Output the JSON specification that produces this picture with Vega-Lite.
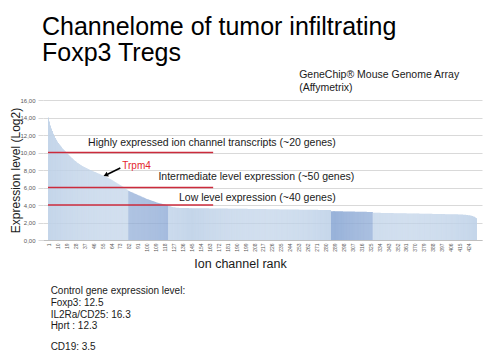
{
"$schema": "https://vega.github.io/schema/vega-lite/v6.json",
"width": 439, "height": 140,
"autosize": {"type": "none"},
"padding": {"left": 43, "top": 100, "right": 9, "bottom": 121},
"background": "white",
"title": {"text": ["Channelome of tumor infiltrating", "Foxp3 Tregs"], "anchor": "start", "frame": "group", "font": "Liberation Sans", "fontSize": 25, "fontWeight": "normal", "color": "#000000", "lineHeight": 26, "offset": 4, "dx": -1},
"config": {"view": {"stroke": null}, "font": "Liberation Sans"},
"layer": [
{
"data": {"values": [
{"r":1,"v":14},{"r":2,"v":13.55},{"r":3,"v":13.1},{"r":4,"v":12.75},{"r":5,"v":12.45},{"r":6,"v":12.15},{"r":7,"v":11.9},{"r":8,"v":11.65},{"r":9,"v":11.45},{"r":10,"v":11.25},
{"r":11,"v":11.1},{"r":12,"v":10.95},{"r":13,"v":10.8},{"r":14,"v":10.65},{"r":15,"v":10.5},{"r":16,"v":10.38},{"r":17,"v":10.25},{"r":18,"v":10.13},{"r":19,"v":10.02},{"r":20,"v":9.9},
{"r":21,"v":9.78},{"r":22,"v":9.66},{"r":23,"v":9.55},{"r":24,"v":9.44},{"r":25,"v":9.33},{"r":26,"v":9.22},{"r":27,"v":9.12},{"r":28,"v":9.02},{"r":29,"v":8.93},{"r":30,"v":8.84},
{"r":31,"v":8.76},{"r":32,"v":8.68},{"r":33,"v":8.6},{"r":34,"v":8.53},{"r":35,"v":8.46},{"r":36,"v":8.4},{"r":37,"v":8.34},{"r":38,"v":8.28},{"r":39,"v":8.22},{"r":40,"v":8.16},
{"r":41,"v":8.11},{"r":42,"v":8.06},{"r":43,"v":8.01},{"r":44,"v":7.96},{"r":45,"v":7.91},{"r":46,"v":7.86},{"r":47,"v":7.81},{"r":48,"v":7.76},{"r":49,"v":7.71},{"r":50,"v":7.66},
{"r":51,"v":7.61},{"r":52,"v":7.56},{"r":53,"v":7.51},{"r":54,"v":7.46},{"r":55,"v":7.41},{"r":56,"v":7.36},{"r":57,"v":7.31},{"r":58,"v":7.26},{"r":59,"v":7.21},{"r":60,"v":7.16},
{"r":61,"v":7.1},{"r":62,"v":7.04},{"r":63,"v":6.98},{"r":64,"v":6.92},{"r":65,"v":6.85},{"r":66,"v":6.78},{"r":67,"v":6.71},{"r":68,"v":6.64},{"r":69,"v":6.57},{"r":70,"v":6.5},
{"r":71,"v":6.43},{"r":72,"v":6.36},{"r":73,"v":6.29},{"r":74,"v":6.22},{"r":75,"v":6.15},{"r":76,"v":6.08},{"r":77,"v":6.0},{"r":78,"v":5.92},{"r":79,"v":5.84},{"r":80,"v":5.76},
{"r":81,"v":5.68},{"r":82,"v":5.6},{"r":83,"v":5.55},{"r":84,"v":5.5},{"r":85,"v":5.45},{"r":86,"v":5.4},{"r":87,"v":5.35},{"r":88,"v":5.3},{"r":89,"v":5.25},{"r":90,"v":5.2},
{"r":91,"v":5.15},{"r":92,"v":5.1},{"r":93,"v":5.05},{"r":94,"v":5.0},{"r":95,"v":4.95},{"r":96,"v":4.9},{"r":97,"v":4.85},{"r":98,"v":4.8},{"r":99,"v":4.75},{"r":100,"v":4.7},
{"r":101,"v":4.66},{"r":102,"v":4.62},{"r":103,"v":4.58},{"r":104,"v":4.54},{"r":105,"v":4.5},{"r":106,"v":4.46},{"r":107,"v":4.42},{"r":108,"v":4.38},{"r":109,"v":4.34},{"r":110,"v":4.3},
{"r":111,"v":4.27},{"r":112,"v":4.24},{"r":113,"v":4.21},{"r":114,"v":4.18},{"r":115,"v":4.15},{"r":116,"v":4.12},{"r":117,"v":4.09},{"r":118,"v":4.06},{"r":119,"v":4.03},{"r":120,"v":4.0},
{"r":121,"v":3.97},{"r":122,"v":3.93},{"r":123,"v":3.89},{"r":124,"v":3.85},{"r":125,"v":3.81},{"r":126,"v":3.78},{"r":127,"v":3.75},{"r":128,"v":3.73},{"r":129,"v":3.71},{"r":130,"v":3.7},
{"r":131,"v":3.69},{"r":132,"v":3.68},{"r":133,"v":3.67},{"r":134,"v":3.66},{"r":135,"v":3.65},{"r":136,"v":3.65},{"r":137,"v":3.65},{"r":138,"v":3.65},{"r":139,"v":3.65},{"r":140,"v":3.65},
{"r":141,"v":3.65},{"r":142,"v":3.65},{"r":143,"v":3.64},{"r":144,"v":3.64},{"r":145,"v":3.64},{"r":146,"v":3.64},{"r":147,"v":3.64},{"r":148,"v":3.64},{"r":149,"v":3.64},{"r":150,"v":3.63},
{"r":151,"v":3.63},{"r":152,"v":3.63},{"r":153,"v":3.63},{"r":154,"v":3.63},{"r":155,"v":3.63},{"r":156,"v":3.62},{"r":157,"v":3.62},{"r":158,"v":3.62},{"r":159,"v":3.62},{"r":160,"v":3.62},
{"r":161,"v":3.62},{"r":162,"v":3.62},{"r":163,"v":3.61},{"r":164,"v":3.61},{"r":165,"v":3.61},{"r":166,"v":3.61},{"r":167,"v":3.61},{"r":168,"v":3.61},{"r":169,"v":3.6},{"r":170,"v":3.6},
{"r":171,"v":3.6},{"r":172,"v":3.6},{"r":173,"v":3.6},{"r":174,"v":3.6},{"r":175,"v":3.6},{"r":176,"v":3.59},{"r":177,"v":3.59},{"r":178,"v":3.59},{"r":179,"v":3.59},{"r":180,"v":3.59},
{"r":181,"v":3.59},{"r":182,"v":3.58},{"r":183,"v":3.58},{"r":184,"v":3.58},{"r":185,"v":3.58},{"r":186,"v":3.58},{"r":187,"v":3.58},{"r":188,"v":3.58},{"r":189,"v":3.57},{"r":190,"v":3.57},
{"r":191,"v":3.57},{"r":192,"v":3.57},{"r":193,"v":3.57},{"r":194,"v":3.57},{"r":195,"v":3.56},{"r":196,"v":3.56},{"r":197,"v":3.56},{"r":198,"v":3.56},{"r":199,"v":3.56},{"r":200,"v":3.56},
{"r":201,"v":3.56},{"r":202,"v":3.55},{"r":203,"v":3.55},{"r":204,"v":3.55},{"r":205,"v":3.55},{"r":206,"v":3.55},{"r":207,"v":3.55},{"r":208,"v":3.54},{"r":209,"v":3.54},{"r":210,"v":3.54},
{"r":211,"v":3.54},{"r":212,"v":3.54},{"r":213,"v":3.54},{"r":214,"v":3.54},{"r":215,"v":3.53},{"r":216,"v":3.53},{"r":217,"v":3.53},{"r":218,"v":3.53},{"r":219,"v":3.53},{"r":220,"v":3.53},
{"r":221,"v":3.52},{"r":222,"v":3.52},{"r":223,"v":3.52},{"r":224,"v":3.52},{"r":225,"v":3.52},{"r":226,"v":3.52},{"r":227,"v":3.52},{"r":228,"v":3.51},{"r":229,"v":3.51},{"r":230,"v":3.51},
{"r":231,"v":3.51},{"r":232,"v":3.51},{"r":233,"v":3.51},{"r":234,"v":3.5},{"r":235,"v":3.5},{"r":236,"v":3.5},{"r":237,"v":3.5},{"r":238,"v":3.5},{"r":239,"v":3.5},{"r":240,"v":3.5},
{"r":241,"v":3.49},{"r":242,"v":3.49},{"r":243,"v":3.49},{"r":244,"v":3.49},{"r":245,"v":3.49},{"r":246,"v":3.49},{"r":247,"v":3.48},{"r":248,"v":3.48},{"r":249,"v":3.48},{"r":250,"v":3.48},
{"r":251,"v":3.48},{"r":252,"v":3.48},{"r":253,"v":3.48},{"r":254,"v":3.47},{"r":255,"v":3.47},{"r":256,"v":3.47},{"r":257,"v":3.47},{"r":258,"v":3.47},{"r":259,"v":3.47},{"r":260,"v":3.46},
{"r":261,"v":3.46},{"r":262,"v":3.46},{"r":263,"v":3.46},{"r":264,"v":3.46},{"r":265,"v":3.46},{"r":266,"v":3.46},{"r":267,"v":3.45},{"r":268,"v":3.45},{"r":269,"v":3.45},{"r":270,"v":3.45},
{"r":271,"v":3.45},{"r":272,"v":3.45},{"r":273,"v":3.44},{"r":274,"v":3.44},{"r":275,"v":3.44},{"r":276,"v":3.44},{"r":277,"v":3.44},{"r":278,"v":3.44},{"r":279,"v":3.44},{"r":280,"v":3.43},
{"r":281,"v":3.43},{"r":282,"v":3.43},{"r":283,"v":3.43},{"r":284,"v":3.43},{"r":285,"v":3.43},{"r":286,"v":3.3},{"r":287,"v":3.3},{"r":288,"v":3.3},{"r":289,"v":3.3},{"r":290,"v":3.29},
{"r":291,"v":3.29},{"r":292,"v":3.29},{"r":293,"v":3.29},{"r":294,"v":3.28},{"r":295,"v":3.28},{"r":296,"v":3.28},{"r":297,"v":3.28},{"r":298,"v":3.27},{"r":299,"v":3.27},{"r":300,"v":3.27},
{"r":301,"v":3.27},{"r":302,"v":3.26},{"r":303,"v":3.26},{"r":304,"v":3.26},{"r":305,"v":3.26},{"r":306,"v":3.25},{"r":307,"v":3.25},{"r":308,"v":3.25},{"r":309,"v":3.25},{"r":310,"v":3.24},
{"r":311,"v":3.24},{"r":312,"v":3.24},{"r":313,"v":3.24},{"r":314,"v":3.23},{"r":315,"v":3.23},{"r":316,"v":3.23},{"r":317,"v":3.23},{"r":318,"v":3.22},{"r":319,"v":3.22},{"r":320,"v":3.22},
{"r":321,"v":3.22},{"r":322,"v":3.21},{"r":323,"v":3.21},{"r":324,"v":3.21},{"r":325,"v":3.21},{"r":326,"v":3.2},{"r":327,"v":3.2},{"r":328,"v":3.12},{"r":329,"v":3.12},{"r":330,"v":3.12},
{"r":331,"v":3.12},{"r":332,"v":3.11},{"r":333,"v":3.11},{"r":334,"v":3.11},{"r":335,"v":3.11},{"r":336,"v":3.1},{"r":337,"v":3.1},{"r":338,"v":3.1},{"r":339,"v":3.1},{"r":340,"v":3.1},
{"r":341,"v":3.09},{"r":342,"v":3.09},{"r":343,"v":3.09},{"r":344,"v":3.09},{"r":345,"v":3.08},{"r":346,"v":3.08},{"r":347,"v":3.08},{"r":348,"v":3.08},{"r":349,"v":3.07},{"r":350,"v":3.07},
{"r":351,"v":3.07},{"r":352,"v":3.07},{"r":353,"v":3.07},{"r":354,"v":3.06},{"r":355,"v":3.06},{"r":356,"v":3.06},{"r":357,"v":3.06},{"r":358,"v":3.05},{"r":359,"v":3.05},{"r":360,"v":3.05},
{"r":361,"v":3.05},{"r":362,"v":3.04},{"r":363,"v":3.04},{"r":364,"v":3.04},{"r":365,"v":3.04},{"r":366,"v":3.04},{"r":367,"v":3.03},{"r":368,"v":3.03},{"r":369,"v":3.03},{"r":370,"v":3.03},
{"r":371,"v":3.02},{"r":372,"v":3.02},{"r":373,"v":3.02},{"r":374,"v":3.02},{"r":375,"v":3.01},{"r":376,"v":3.01},{"r":377,"v":3.01},{"r":378,"v":3.01},{"r":379,"v":3.01},{"r":380,"v":3.0},
{"r":381,"v":3.0},{"r":382,"v":3.0},{"r":383,"v":3.0},{"r":384,"v":2.99},{"r":385,"v":2.99},{"r":386,"v":2.99},{"r":387,"v":2.99},{"r":388,"v":2.98},{"r":389,"v":2.98},{"r":390,"v":2.98},
{"r":391,"v":2.98},{"r":392,"v":2.98},{"r":393,"v":2.97},{"r":394,"v":2.97},{"r":395,"v":2.97},{"r":396,"v":2.97},{"r":397,"v":2.96},{"r":398,"v":2.96},{"r":399,"v":2.96},{"r":400,"v":2.96},
{"r":401,"v":2.95},{"r":402,"v":2.95},{"r":403,"v":2.95},{"r":404,"v":2.95},{"r":405,"v":2.95},{"r":406,"v":2.94},{"r":407,"v":2.94},{"r":408,"v":2.94},{"r":409,"v":2.94},{"r":410,"v":2.93},
{"r":411,"v":2.93},{"r":412,"v":2.93},{"r":413,"v":2.93},{"r":414,"v":2.92},{"r":415,"v":2.92},{"r":416,"v":2.92},{"r":417,"v":2.92},{"r":418,"v":2.91},{"r":419,"v":2.9},{"r":420,"v":2.89},
{"r":421,"v":2.88},{"r":422,"v":2.87},{"r":423,"v":2.86},{"r":424,"v":2.84},{"r":425,"v":2.82},{"r":426,"v":2.8},{"r":427,"v":2.77},{"r":428,"v":2.74},{"r":429,"v":2.7},{"r":430,"v":2.65},
{"r":431,"v":2.58},{"r":432,"v":2.5}
]},
"mark": {"type": "bar", "size": 1.02, "opacity": 0.9},
"encoding": {
"x": {"field": "r", "type": "quantitative", "scale": {"domain": [0.5, 432.5], "nice": false, "zero": false},
 "axis": {"values": [1,10,19,28,37,46,55,64,73,82,91,100,109,118,127,136,145,154,163,172,181,190,199,208,217,226,235,244,253,262,271,280,289,298,307,316,325,334,343,352,361,370,379,388,397,406,415,424],
  "tickCount": 500, "labelAngle": 270, "labelFontSize": 5, "labelColor": "#595959", "labelOverlap": false, "labelFlush": false, "labelPadding": 3, "ticks": false, "grid": false, "domainColor": "#bfbfbf",
  "title": "Ion channel rank", "titleFontSize": 12.5, "titleFontWeight": "normal", "titleColor": "#1a1a1a", "titleX": 197, "titleY": 23, "titleAlign": "center", "titleBaseline": "middle"}},
"y": {"field": "v", "type": "quantitative", "scale": {"domain": [0, 16], "nice": false},
 "axis": {"values": [0,2,4,6,8,10,12,14,16], "tickCount": 50, "labelOverlap": false, "labelExpr": "replace(format(datum.value, '.2f'), '.', ',')",
  "labelFontSize": 6, "labelColor": "#595959", "labelPadding": 3, "tickSize": 5, "tickColor": "#d9d9d9", "grid": true, "gridColor": "#d9d9d9", "domain": false,
  "title": "Expression level (Log2)", "titleFontSize": 12, "titleFontWeight": "normal", "titleColor": "#1a1a1a", "titleX": -28, "titleY": 70, "titleAlign": "center", "titleBaseline": "middle", "titleAngle": 270}},
"color": {"condition": {"test": "(datum.r >= 82 && datum.r <= 121) || (datum.r >= 286 && datum.r <= 327)", "value": "#8eabd6"}, "value": "#bfd1e8"}
}
},
{
"data": {"values": [{"level": 10}, {"level": 6}, {"level": 4}]},
"mark": {"type": "rule", "stroke": "#cc2b3c", "strokeWidth": 1.3},
"encoding": {"y": {"field": "level", "type": "quantitative"}, "x": {"datum": 0.5, "type": "quantitative"}, "x2": {"datum": 166.8}}
},
{
"data": {"values": [{"t": "Highly expressed ion channel transcripts (~20 genes)"}]},
"mark": {"type": "text", "align": "left", "baseline": "middle", "fontSize": 10.5, "color": "#1a1a1a"},
"encoding": {"text": {"field": "t"}, "x": {"datum": 40.85, "type": "quantitative"}, "y": {"datum": 11.05, "type": "quantitative"}}
},
{
"data": {"values": [{"t": "Intermediate level expression (~50 genes)"}]},
"mark": {"type": "text", "align": "left", "baseline": "middle", "fontSize": 10.5, "color": "#1a1a1a"},
"encoding": {"text": {"field": "t"}, "x": {"datum": 111.7, "type": "quantitative"}, "y": {"datum": 7.23, "type": "quantitative"}}
},
{
"data": {"values": [{"t": "Low level expression (~40 genes)"}]},
"mark": {"type": "text", "align": "left", "baseline": "middle", "fontSize": 10.5, "color": "#1a1a1a"},
"encoding": {"text": {"field": "t"}, "x": {"datum": 132.4, "type": "quantitative"}, "y": {"datum": 4.83, "type": "quantitative"}}
},
{
"data": {"values": [{"t": "Trpm4"}]},
"mark": {"type": "text", "align": "left", "baseline": "middle", "fontSize": 10, "color": "#e3262e"},
"encoding": {"text": {"field": "t"}, "x": {"datum": 75.3, "type": "quantitative"}, "y": {"datum": 8.46, "type": "quantitative"}}
},
{
"data": {"values": [{"gene": "Trpm4"}]},
"mark": {"type": "rule", "color": "#000000", "strokeWidth": 1.6},
"encoding": {"x": {"datum": 73.3, "type": "quantitative"}, "x2": {"datum": 60.5}, "y": {"datum": 8.23, "type": "quantitative"}, "y2": {"datum": 7.52}}
},
{
"data": {"values": [{"gene": "Trpm4"}]},
"mark": {"type": "point", "shape": "triangle", "filled": true, "color": "#000000", "size": 28, "angle": 246, "opacity": 1},
"encoding": {"x": {"datum": 59.3, "type": "quantitative"}, "y": {"datum": 7.46, "type": "quantitative"}}
},
{
"data": {"values": [{"t": "GeneChip® Mouse Genome Array\n(Affymetrix)"}]},
"mark": {"type": "text", "align": "left", "baseline": "alphabetic", "fontSize": 10.5, "lineHeight": 13, "lineBreak": "\n", "color": "#1a1a1a"},
"encoding": {"text": {"field": "t"}, "x": {"datum": 253.4, "type": "quantitative"}, "y": {"datum": 18.51, "type": "quantitative"}}
},
{
"data": {"values": [{"t": "Control gene expression level:\nFoxp3: 12.5\nIL2Ra/CD25: 16.3\nHprt : 12.3"}]},
"mark": {"type": "text", "align": "left", "baseline": "alphabetic", "fontSize": 10, "lineHeight": 11.7, "lineBreak": "\n", "color": "#1a1a1a"},
"encoding": {"text": {"field": "t"}, "x": {"datum": 3.16, "type": "quantitative"}, "y": {"datum": -6.2, "type": "quantitative"}}
},
{
"data": {"values": [{"t": "CD19: 3.5"}]},
"mark": {"type": "text", "align": "left", "baseline": "alphabetic", "fontSize": 10, "color": "#1a1a1a"},
"encoding": {"text": {"field": "t"}, "x": {"datum": 3.16, "type": "quantitative"}, "y": {"datum": -12.6, "type": "quantitative"}}
}
]
}
